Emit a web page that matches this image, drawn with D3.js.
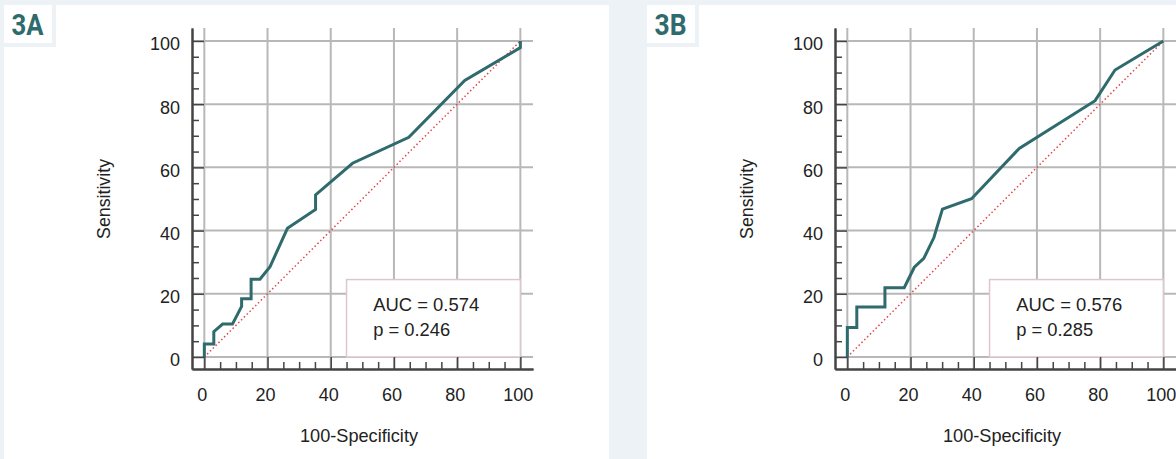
<!DOCTYPE html>
<html><head><meta charset="utf-8">
<script src="https://cdn.jsdelivr.net/npm/d3@7"></script>
<style>
html,body{margin:0;padding:0;background:#edf2f6;}
svg{display:block;}
text{font-family:"Liberation Sans",Arial,Helvetica,sans-serif;fill:#222;}
</style></head>
<body>
<svg id="chart" width="1176" height="459"></svg>
<script>
// ---- data ----
const panelLabels = ["3A", "3B"];
const fprA = [0, 0, 3, 3, 5.8, 8.9, 11.8, 11.8, 14.8, 14.8, 17.6, 20.8, 26.3, 35.2, 35.2, 46.9, 64.7, 82.4, 100, 100];
const tprA = [0, 4.1, 4.1, 8, 10.4, 10.4, 16, 18.4, 18.4, 24.6, 24.6, 28.6, 40.7, 46.7, 51.3, 61.3, 69.5, 87.5, 97.9, 100];
const fprB = [0, 0, 3, 3, 11.9, 11.9, 18, 21.2, 24.2, 27.4, 30.1, 39.3, 54.4, 78.4, 84.7, 100];
const tprB = [0, 9.3, 9.3, 15.8, 15.8, 21.9, 21.9, 28.4, 31.2, 37.8, 46.8, 50.1, 66.0, 81.1, 90.8, 100];
const aucLabels = ["AUC = 0.574", "AUC = 0.576"];
const pLabels = ["p = 0.246", "p = 0.285"];
const majorTicks = [0, 20, 40, 60, 80, 100];
const minorTicks = [5, 10, 15, 25, 30, 35, 45, 50, 55, 65, 70, 75, 85, 90, 95];
const xTitle = "100-Specificity";
const yTitle = "Sensitivity";

const curves = [
  fprA.map((f, i) => [f, tprA[i]]),
  fprB.map((f, i) => [f, tprB[i]])
];

const svg = d3.select("#chart");
const x = d3.scaleLinear().domain([-3.9, 104]).range([192, 533]);
const y = d3.scaleLinear().domain([-3.8, 104.1]).range([369, 28]);
const offsets = [0, 643];
const bg = "#edf2f6";
const teal = "#2f6a6d";

function fitText(sel, w) {
  sel.each(function () {
    this.setAttribute("textLength", w);
    this.setAttribute("lengthAdjust", "spacingAndGlyphs");
  });
}

panelLabels.forEach((lab, i) => {
  const g = svg.append("g").attr("transform", `translate(${offsets[i]},0)`);
  // panel background
  g.append("rect").attr("x", 4).attr("y", 5).attr("width", 605).attr("height", 460).attr("fill", "#fff");
  g.append("rect").attr("x", 4).attr("y", 5).attr("width", 52).attr("height", 42).attr("fill", bg);
  g.append("rect").attr("x", 4).attr("y", 5).attr("width", 48).attr("height", 38).attr("fill", "#fff");
  g.append("text").attr("x", 11.5).attr("y", 35).text(lab)
    .style("font-family", "Roboto, 'Liberation Sans', sans-serif")
    .style("font-weight", 700).style("font-size", "30px").style("fill", teal)
    .call(fitText, 32);

  // grid
  const grid = g.append("g").attr("stroke", "#b8b8b8").attr("stroke-width", 2);
  grid.selectAll("line.v").data(majorTicks).join("line").attr("class", "v")
    .attr("x1", d => x(d)).attr("x2", d => x(d)).attr("y1", y.range()[1]).attr("y2", y.range()[0]);
  grid.selectAll("line.h").data(majorTicks).join("line").attr("class", "h")
    .attr("y1", d => y(d)).attr("y2", d => y(d)).attr("x1", x.range()[0]).attr("x2", x.range()[1]);

  // legend box
  g.append("rect").attr("x", x(45)).attr("y", y(24.5))
    .attr("width", x(100) - x(45)).attr("height", y(0) - y(24.5))
    .attr("fill", "#fff").attr("stroke", "#dcc6d1").attr("stroke-width", 1.5);
  g.append("text").attr("x", x(45) + 26.7).attr("y", y(0) - 46).style("font-size", "19px")
    .text(aucLabels[i]).call(fitText, 106);
  g.append("text").attr("x", x(45) + 26.7).attr("y", y(0) - 21).style("font-size", "19px")
    .text(pLabels[i]).call(fitText, 77);

  // reference diagonal
  g.append("line").attr("x1", x(0)).attr("y1", y(0)).attr("x2", x(100)).attr("y2", y(100))
    .attr("stroke", "#e0474d").attr("stroke-width", 1.5).attr("stroke-dasharray", "1.5,2.5");

  // ROC curve
  g.append("path").datum(curves[i])
    .attr("d", d3.line().x(d => x(d[0])).y(d => y(d[1])))
    .attr("fill", "none").attr("stroke", teal).attr("stroke-width", 3);

  // axes
  const xAxisG = g.append("g").attr("transform", `translate(0,${y.range()[0]})`);
  xAxisG.call(d3.axisBottom(x).tickValues(minorTicks).tickSize(-7).tickSizeOuter(0).tickFormat(""));
  xAxisG.append("g").call(d3.axisBottom(x).tickValues(majorTicks).tickSize(-12).tickSizeOuter(0).tickPadding(19.5));
  const yAxisG = g.append("g").attr("transform", `translate(${x.range()[0]},0)`);
  yAxisG.call(d3.axisLeft(y).tickValues(minorTicks).tickSize(-7).tickSizeOuter(0).tickFormat(""));
  yAxisG.append("g").call(d3.axisLeft(y).tickValues(majorTicks).tickSize(-12).tickSizeOuter(0).tickPadding(12));

  g.selectAll(".domain").attr("stroke", "#444").attr("stroke-width", 2);
  g.selectAll(".tick line").attr("stroke", "#444").attr("stroke-width", 1.5);
  xAxisG.selectAll(".tick text").style("font-size", "18px").style("font-family", "'Liberation Sans', Arial, sans-serif")
    .attr("fill", "#222").attr("dx", -2.5);
  yAxisG.selectAll(".tick text").style("font-size", "18px").style("font-family", "'Liberation Sans', Arial, sans-serif")
    .attr("fill", "#222").attr("dy", 9);

  // titles
  g.append("text").attr("x", 359).attr("y", 441.5).attr("text-anchor", "middle")
    .style("font-size", "19px").text(xTitle).call(fitText, 118);
  g.append("text").attr("transform", `translate(110,${y(50)}) rotate(-90)`).attr("text-anchor", "middle")
    .style("font-size", "18px").text(yTitle).call(fitText, 80);
});
</script>
</body></html>
